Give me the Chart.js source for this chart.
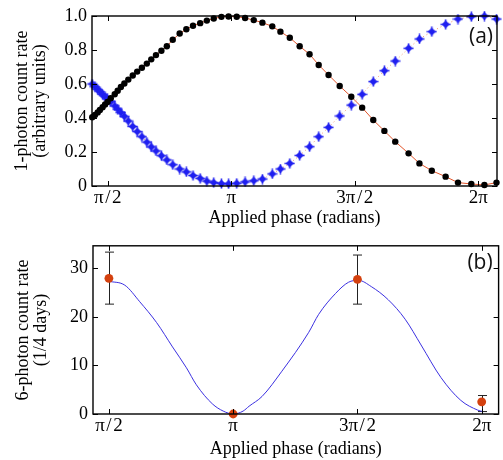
<!DOCTYPE html>
<html>
<head>
<meta charset="utf-8">
<script src="https://cdn.jsdelivr.net/npm/chart.js@4.4.1/dist/chart.umd.min.js"></script>
<style>
  html, body { margin: 0; padding: 0; background: #fff; }
  #wrap { position: relative; width: 503px; height: 460px; }
  canvas { position: absolute; left: 0; }
</style>
</head>
<body>
<div id="wrap">
  <canvas id="chartA" width="503" height="230" style="top:0"></canvas>
  <canvas id="chartB" width="503" height="230" style="top:230px"></canvas>
</div>
<script>
// phases are kept in units of pi (0.5 = pi/2, 2 = 2pi)

// (a) 1-photon count rate
const phaseA = [0.437, 0.448, 0.459, 0.468, 0.479, 0.489, 0.499, 0.512, 0.528, 0.540,
                0.553, 0.567, 0.583, 0.601, 0.619, 0.638, 0.658, 0.676, 0.695, 0.717,
                0.739, 0.763, 0.791, 0.818, 0.845, 0.874, 0.901, 0.929, 0.960, 0.989,
                1.022, 1.056, 1.091, 1.126, 1.166, 1.199, 1.237, 1.277, 1.317, 1.354,
                1.394, 1.439, 1.486, 1.530, 1.575, 1.620, 1.664, 1.718, 1.762, 1.812,
                1.868, 1.918, 1.972, 2.025, 2.074];
const rateBlack = [0.404, 0.418, 0.433, 0.447, 0.463, 0.480, 0.494, 0.516, 0.540, 0.560,
                   0.582, 0.603, 0.626, 0.650, 0.673, 0.696, 0.720, 0.745, 0.770, 0.796,
                   0.822, 0.860, 0.897, 0.922, 0.943, 0.958, 0.973, 0.985, 0.995, 0.997,
                   0.996, 0.988, 0.976, 0.961, 0.939, 0.908, 0.872, 0.822, 0.775, 0.712,
                   0.653, 0.588, 0.525, 0.461, 0.388, 0.324, 0.261, 0.192, 0.133, 0.090,
                   0.055, 0.020, 0.012, 0.006, 0.020];
const rateBlue = [0.600, 0.584, 0.569, 0.555, 0.539, 0.525, 0.512, 0.496, 0.471, 0.452,
                  0.432, 0.410, 0.382, 0.350, 0.320, 0.290, 0.258, 0.230, 0.206, 0.178,
                  0.153, 0.125, 0.100, 0.083, 0.062, 0.045, 0.029, 0.020, 0.014, 0.013,
                  0.016, 0.024, 0.031, 0.041, 0.071, 0.100, 0.133, 0.180, 0.231, 0.290,
                  0.345, 0.412, 0.476, 0.539, 0.614, 0.678, 0.735, 0.810, 0.865, 0.908,
                  0.951, 0.982, 0.996, 1.000, 0.982];

// (b) 6-photon count rate
const fitPhaseB = [0.5, 0.564, 0.624, 0.692, 0.756, 0.812, 0.852, 0.916, 0.960, 1.0,
                   1.040, 1.064, 1.116, 1.196, 1.304, 1.344, 1.412, 1.464, 1.504, 1.556,
                   1.624, 1.692, 1.756, 1.836, 1.916, 1.984, 2.004];
const fitRateB = [27.3, 26.5, 23.1, 18.8, 13.8, 9.5, 6.0, 2.1, 0.6, 0.0,
                  0.6, 1.6, 3.6, 8.8, 16.8, 20.5, 24.8, 27.1, 27.5, 26.2,
                  23.5, 19.5, 14.2, 7.5, 2.8, 0.8, 0.5];
const phaseB = [0.5, 1.0, 1.5, 2.0];
const rateB = [27.9, 0.0, 27.7, 2.5];
const rateLowB = [22.6, 0.0, 22.6, 0.5];
const rateHighB = [33.3, 0.0, 32.7, 3.8];

// axis ticks
const phaseTicks = [0.5, 1, 1.5, 2];
const phaseTickLabels = ['π\u200a/\u200a2', 'π', '3π\u200a/\u200a2', '2π'];
const yTicksA = [0, 0.2, 0.4, 0.6, 0.8, 1.0];
const yTickLabelsA = ['0', '0.2', '0.4', '0.6', '0.8', '1.0'];
const yTicksB = [0, 10, 20, 30];

const serif = "'Liberation Serif', 'Times New Roman', serif";
Chart.defaults.font.family = serif;
Chart.defaults.font.size = 18;
Chart.defaults.color = '#000';

// box round the plot, inward tick marks and the panel tag
const frameTicks = {
    id: 'frameTicks',
    afterDatasetsDraw(chart, args, opts) {
        const { ctx, chartArea: a, scales } = chart;
        ctx.save();
        ctx.strokeStyle = '#000';
        ctx.lineWidth = 1;
        ctx.beginPath();
        scales.x.ticks.forEach(t => {
            const px = Math.round(scales.x.getPixelForValue(t.value)) + 0.5;
            ctx.moveTo(px, a.bottom); ctx.lineTo(px, a.bottom - 5);
            ctx.moveTo(px, a.top); ctx.lineTo(px, a.top + 5);
        });
        scales.y.ticks.forEach(t => {
            const py = Math.round(scales.y.getPixelForValue(t.value)) + 0.5;
            ctx.moveTo(a.left, py); ctx.lineTo(a.left + 5, py);
            ctx.moveTo(a.right, py); ctx.lineTo(a.right - 5, py);
        });
        ctx.stroke();
        ctx.lineWidth = 1.4;
        ctx.strokeRect(a.left, a.top, a.right - a.left, a.bottom - a.top);
        ctx.fillStyle = '#111';
        ctx.font = "21px 'Open Sans', sans-serif";
        ctx.textAlign = 'center';
        ctx.textBaseline = 'middle';
        ctx.fillText(opts.tag, opts.tagX, opts.tagY);
        ctx.restore();
    }
};

// error bars of panel (b), read through the chart's scales
const errorBars = {
    id: 'errorBars',
    beforeDatasetsDraw(chart) {
        const { ctx, scales: { x, y } } = chart;
        ctx.save();
        ctx.strokeStyle = '#222';
        ctx.lineWidth = 1;
        ctx.beginPath();
        phaseB.forEach((p, i) => {
            if (rateHighB[i] === rateLowB[i]) return;
            const px = Math.round(x.getPixelForValue(p)) + 0.5;
            const yHi = y.getPixelForValue(rateHighB[i]);
            const yLo = y.getPixelForValue(rateLowB[i]);
            ctx.moveTo(px, yHi); ctx.lineTo(px, yLo);
            ctx.moveTo(px - 4.5, yHi); ctx.lineTo(px + 4.5, yHi);
            ctx.moveTo(px - 4.5, yLo); ctx.lineTo(px + 4.5, yLo);
        });
        ctx.stroke();
        ctx.restore();
    }
};

// bold star-like marker for the blue series
function starMarker(color) {
    const c = document.createElement('canvas');
    c.width = 11; c.height = 11;
    const g = c.getContext('2d');
    g.fillStyle = color;
    g.strokeStyle = color;
    g.lineWidth = 1.6;
    g.beginPath();
    g.moveTo(5.5, 0.5); g.lineTo(5.5, 10.5);
    g.moveTo(0.5, 5.5); g.lineTo(10.5, 5.5);
    g.stroke();
    g.beginPath();
    g.moveTo(5.5, 1.5); g.lineTo(9.5, 5.5); g.lineTo(5.5, 9.5); g.lineTo(1.5, 5.5);
    g.closePath();
    g.fill();
    return c;
}

function phaseAxis(min, max, height, titleBottom) {
    return {
        type: 'linear',
        min: min,
        max: max,
        afterBuildTicks: s => { s.ticks = phaseTicks.map(v => ({ value: v })); },
        afterFit: s => { s.height = height; },
        grid: { display: false, drawTicks: false },
        border: { display: false },
        ticks: {
            color: '#000',
            font: { family: serif, size: 19 },
            padding: 1,
            maxRotation: 0,
            autoSkip: false,
            callback: v => phaseTickLabels[phaseTicks.indexOf(v)]
        },
        title: {
            display: true,
            text: 'Applied phase (radians)',
            color: '#000',
            font: { family: serif, size: 18, lineHeight: 1.2 },
            padding: { top: 0, bottom: titleBottom }
        }
    };
}

// Chart (a)
new Chart(document.getElementById('chartA'), {
    type: 'scatter',
    data: {
        datasets: [{
            data: phaseA.map((x, i) => ({ x: x, y: rateBlack[i] })),
            showLine: true,
            clip: false,
            borderColor: '#e2542a',
            borderWidth: 1,
            pointRadius: 3.2,
            pointBackgroundColor: '#000',
            pointBorderColor: '#000',
            pointBorderWidth: 0
        }, {
            data: phaseA.map((x, i) => ({ x: x, y: rateBlue[i] })),
            showLine: true,
            clip: false,
            borderColor: 'rgba(238, 120, 70, 0.8)',
            borderWidth: 1,
            borderDash: [1, 3],
            pointStyle: starMarker('#1f1ff0'),
            pointRadius: 5
        }]
    },
    options: {
        responsive: false,
        animation: false,
        layout: { padding: { top: 16, right: 2, left: 0, bottom: 0 } },
        plugins: {
            legend: { display: false },
            tooltip: { enabled: false },
            frameTicks: { tag: '(a)', tagX: 481, tagY: 37 }
        },
        scales: {
            x: phaseAxis(0.436, 2.076, 44, 1),
            y: {
                min: 0,
                max: 1,
                afterBuildTicks: s => { s.ticks = yTicksA.map(v => ({ value: v })); },
                afterFit: s => { s.width = 92; },
                grid: { display: false, drawTicks: false },
                border: { display: false },
                ticks: {
                    color: '#000',
                    font: { family: serif, size: 18 },
                    padding: 5,
                    callback: v => yTickLabelsA[yTicksA.indexOf(v)]
                },
                title: {
                    display: true,
                    text: ['1-photon count rate', '(arbitrary units)'],
                    color: '#000',
                    font: { family: serif, size: 18, lineHeight: 1.0 },
                    padding: { top: 13, bottom: 0 }
                }
            }
        }
    },
    plugins: [frameTicks]
});

// Chart (b)
new Chart(document.getElementById('chartB'), {
    type: 'scatter',
    data: {
        datasets: [{
            data: phaseB.map((x, i) => ({ x: x, y: rateB[i] })),
            showLine: false,
            clip: false,
            pointRadius: 4.4,
            pointBackgroundColor: '#d4410f',
            pointBorderColor: '#d4410f',
            pointBorderWidth: 0
        }, {
            data: fitPhaseB.map((x, i) => ({ x: x, y: fitRateB[i] })),
            showLine: true,
            borderColor: '#3b30e0',
            borderWidth: 1,
            cubicInterpolationMode: 'monotone',
            pointRadius: 0
        }]
    },
    options: {
        responsive: false,
        animation: false,
        layout: { padding: { top: 11, right: 2, left: 0, bottom: 0 } },
        plugins: {
            legend: { display: false },
            tooltip: { enabled: false },
            frameTicks: { tag: '(b)', tagX: 480, tagY: 33 }
        },
        scales: {
            x: phaseAxis(0.436, 2.068, 46, 0),
            y: {
                min: 0,
                max: 34.6,
                afterBuildTicks: s => { s.ticks = yTicksB.map(v => ({ value: v })); },
                afterFit: s => { s.width = 93; },
                grid: { display: false, drawTicks: false },
                border: { display: false },
                ticks: {
                    color: '#000',
                    font: { family: serif, size: 18 },
                    padding: 5
                },
                title: {
                    display: true,
                    text: ['6-photon count rate', '(1/4 days)'],
                    color: '#000',
                    font: { family: serif, size: 18, lineHeight: 1.0 },
                    padding: { top: 14, bottom: 0 }
                }
            }
        }
    },
    plugins: [frameTicks, errorBars]
});
</script>
</body>
</html>
